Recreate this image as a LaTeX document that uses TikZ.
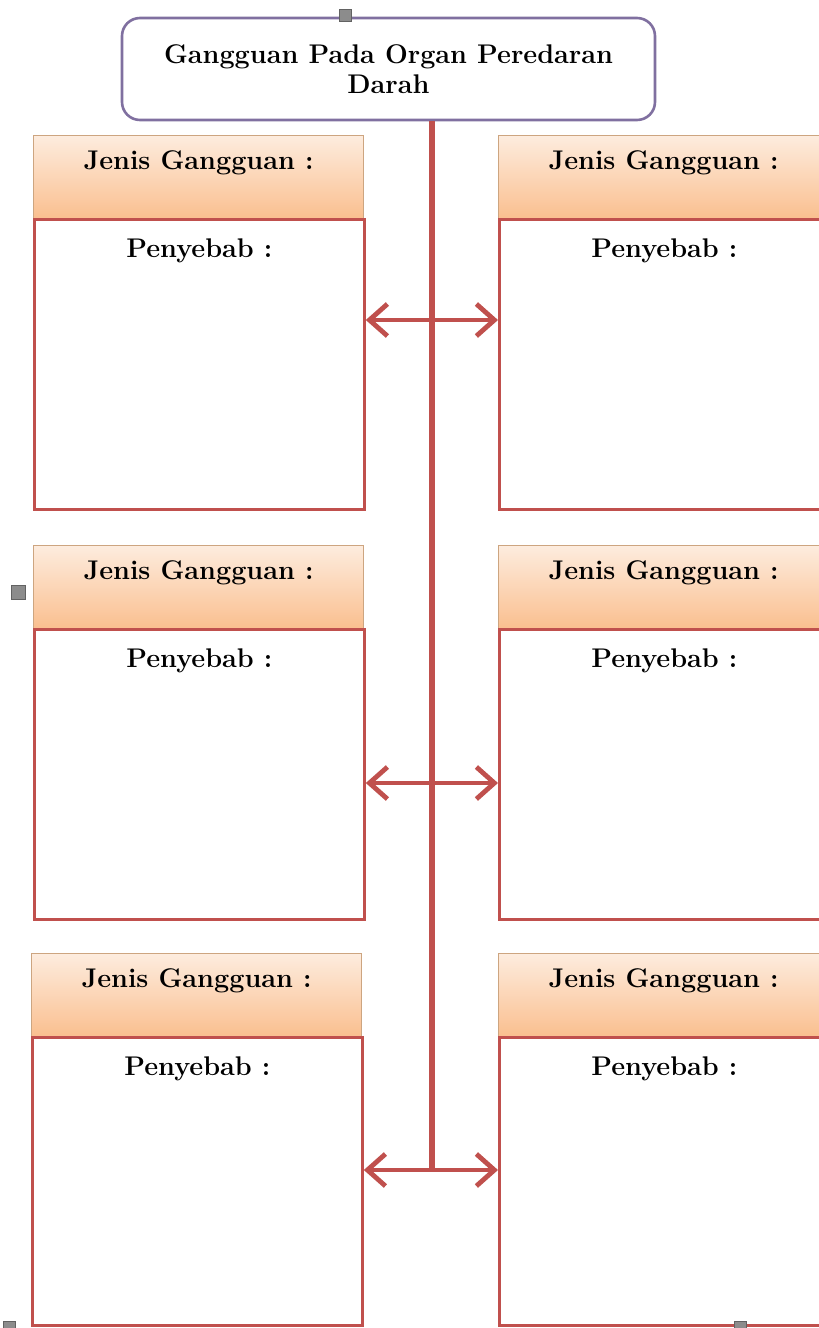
\documentclass[tikz,border=0pt]{standalone}
\usepackage{tikz}
\usetikzlibrary{arrows.meta, positioning, shadings}
\definecolor{garisungu}{RGB}{128, 112, 160}
\definecolor{merahbata}{RGB}{192, 80, 77}
\definecolor{jinggamuda}{RGB}{253, 236, 222}
\definecolor{jingga}{RGB}{250, 191, 143}
\definecolor{tepijingga}{RGB}{205, 165, 128}
\definecolor{abu}{RGB}{140, 140, 140}

\begin{document}
\begin{tikzpicture}[x=0.5pt, y=-0.5pt,
  judul/.style={draw=garisungu, line width=1.3pt, rounded corners=9pt, fill=white, minimum width=266.5pt, minimum height=51pt, align=center, inner sep=0pt, font=\fontsize{13.5}{15}\selectfont\bfseries},
  kepala/.style={draw=tepijingga, line width=0.6pt, top color=jinggamuda, bottom color=jingga, minimum width=165pt, minimum height=41.5pt, anchor=north west, inner sep=0pt},
  isi/.style={draw=merahbata, line width=1.4pt, fill=white, minimum width=165pt, minimum height=145pt, anchor=north west, inner sep=0pt},
  teks/.style={font=\fontsize{13.5}{15}\selectfont\bfseries, inner sep=0pt, anchor=north},
  batang/.style={draw=merahbata, line width=3pt},
  panah/.style={merahbata, line width=2.4pt, {Straight Barb[length=9pt, width=16pt]}-{Straight Barb[length=9pt, width=16pt]}},
  pegangan/.style={fill=abu, draw=abu!70!black, line width=0.3pt}]
  \useasboundingbox (0,0) rectangle (819,1328);

  % Judul
  \node[judul] (judul) at (388.5,69) {Gangguan Pada Organ Peredaran\\Darah};

  % Kolom kiri
  \node[kepala] (hk1) at (33,135) {};
  \node[isi] (ik1) at (33,218) {};
  \node[teks] (jk1) at ([yshift=-7.5pt]hk1.north) {Jenis Gangguan :};
  \node[teks] (pk1) at ([yshift=-10pt]ik1.north) {Penyebab :};

  \node[kepala] (hk2) at (33,545) {};
  \node[isi] (ik2) at (33,628) {};
  \node[teks] (jk2) at ([yshift=-7.5pt]hk2.north) {Jenis Gangguan :};
  \node[teks] (pk2) at ([yshift=-10pt]ik2.north) {Penyebab :};

  \node[kepala] (hk3) at (31,953) {};
  \node[isi, minimum height=144pt] (ik3) at (31,1036) {};
  \node[teks] (jk3) at ([yshift=-7.5pt]hk3.north) {Jenis Gangguan :};
  \node[teks] (pk3) at ([yshift=-10pt]ik3.north) {Penyebab :};

  % Kolom kanan
  \node[kepala] (ha1) at (498,135) {};
  \node[isi] (ia1) at (498,218) {};
  \node[teks] (ja1) at ([yshift=-7.5pt]ha1.north) {Jenis Gangguan :};
  \node[teks] (pa1) at ([yshift=-10pt]ia1.north) {Penyebab :};

  \node[kepala] (ha2) at (498,545) {};
  \node[isi] (ia2) at (498,628) {};
  \node[teks] (ja2) at ([yshift=-7.5pt]ha2.north) {Jenis Gangguan :};
  \node[teks] (pa2) at ([yshift=-10pt]ia2.north) {Penyebab :};

  \node[kepala] (ha3) at (498,953) {};
  \node[isi, minimum height=144pt] (ia3) at (498,1036) {};
  \node[teks] (ja3) at ([yshift=-7.5pt]ha3.north) {Jenis Gangguan :};
  \node[teks] (pa3) at ([yshift=-10pt]ia3.north) {Penyebab :};

  % Batang tengah
  \coordinate (a1) at (432,320);
  \coordinate (a2) at (432,783);
  \coordinate (a3) at (432,1170);
  \draw[batang] (a3 |- judul.south) -- (a3);

  % Panah
  \draw[panah] (ik1.east |- a1) -- (ia1.west |- a1);
  \draw[panah] (ik2.east |- a2) -- (ia2.west |- a2);
  \draw[panah] (ik3.east |- a3) -- (ia3.west |- a3);

  % Pegangan abu-abu
  \filldraw[pegangan] (339,9) rectangle (351,21);
  \filldraw[pegangan] (11,585) rectangle (25,599);
  \filldraw[pegangan] (3,1321) rectangle (15,1333);
  \filldraw[pegangan] (734,1321) rectangle (746,1333);
\end{tikzpicture}
\end{document}
